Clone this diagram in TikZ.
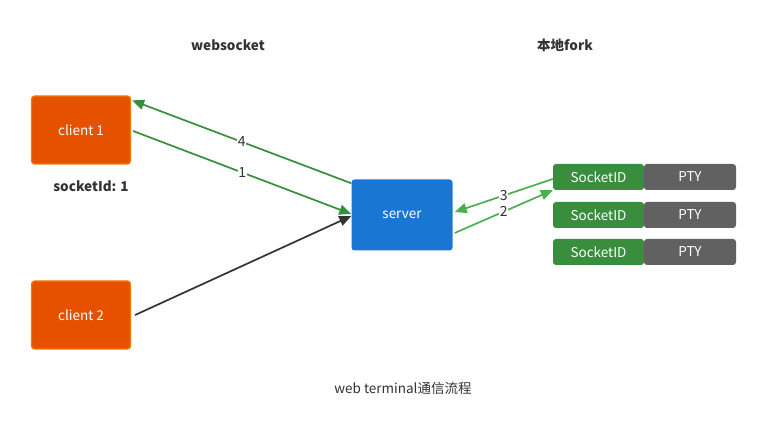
\documentclass[tikz,border=0pt]{standalone}
\usepackage{fontspec}
\setmainfont{Noto Sans CJK SC}
\usepackage{tikz}
\usetikzlibrary{arrows.meta}

\definecolor{clientfill}{HTML}{E65100}
\definecolor{clientline}{HTML}{F57C00}
\definecolor{serverfill}{HTML}{1976D2}
\definecolor{sockfill}{HTML}{388E3C}
\definecolor{ptyfill}{HTML}{616161}
\definecolor{lightgreen}{HTML}{4CAF50}
\definecolor{txt}{HTML}{333333}

\tikzset{
  client/.style={draw=clientline, line width=1.2pt, fill=clientfill, rounded corners=3pt,
    minimum width=99pt, minimum height=68pt, text=white, font=\fontsize{13.5}{15}\selectfont},
  serverbox/.style={fill=serverfill, rounded corners=3pt, minimum width=101pt,
    minimum height=71pt, text=white, font=\fontsize{13.5}{15}\selectfont},
  sockbox/.style={fill=sockfill, rounded corners=3pt, minimum width=91pt,
    minimum height=26pt, text=white, font=\fontsize{13.5}{15}\selectfont},
  ptybox/.style={fill=ptyfill, rounded corners=3pt, minimum width=92pt,
    minimum height=26pt, text=white, font=\fontsize{13.5}{15}\selectfont},
  title/.style={text=txt, font=\bfseries\fontsize{13.5}{15}\selectfont},
  flow/.style={line width=1.7pt, -{Triangle[length=12pt,width=10pt]}},
  num/.style={fill=white, inner sep=0.6pt, text=txt, font=\fontsize{14}{15}\selectfont}
}

\begin{document}
\begin{tikzpicture}[x=1pt,y=-1pt]
\useasboundingbox (0,0) rectangle (760,430);
\node[title] (wslabel) at (228,45) {websocket};
\node[title] (forklabel) at (565,45) {本地fork};
\node[client] (client1) at (81,130) {client 1};
\node[client] (client2) at (81,315) {client 2};
\node[title] (sockid) at (91,186) {socketId: 1};
\node[serverbox] (server) at (402,215) {server};
\node[sockbox] (sock1) at (598.5,177) {SocketID};
\node[ptybox] (pty1) at (690,177) {PTY};
\node[sockbox] (sock2) at (598.5,215) {SocketID};
\node[ptybox] (pty2) at (690,215) {PTY};
\node[sockbox] (sock3) at (598.5,252) {SocketID};
\node[ptybox] (pty3) at (690,252) {PTY};
\node[text=txt, font=\fontsize{13.5}{15}\selectfont] (caption) at (403,388) {web terminal通信流程};
% websocket side
\draw[flow, sockfill] ([yshift=-4pt]server.north west) -- node[num] {4} ([xshift=1pt,yshift=-5pt]client1.north east);
\draw[flow, sockfill] ([xshift=2pt,yshift=-1pt]client1.east) -- node[num] {1} ([yshift=1pt]server.west);
\draw[flow, txt] ([xshift=4pt]client2.east) -- ([yshift=-1pt]server.west);
% fork side
\draw[flow, lightgreen] ([yshift=-2pt]sock1.west) -- node[num] {3} ([xshift=2pt,yshift=3pt]server.east);
\draw[flow, lightgreen] ([xshift=2pt,yshift=-18pt]server.east) -- node[num] {2} (sock1.south west);
\end{tikzpicture}
\end{document}
